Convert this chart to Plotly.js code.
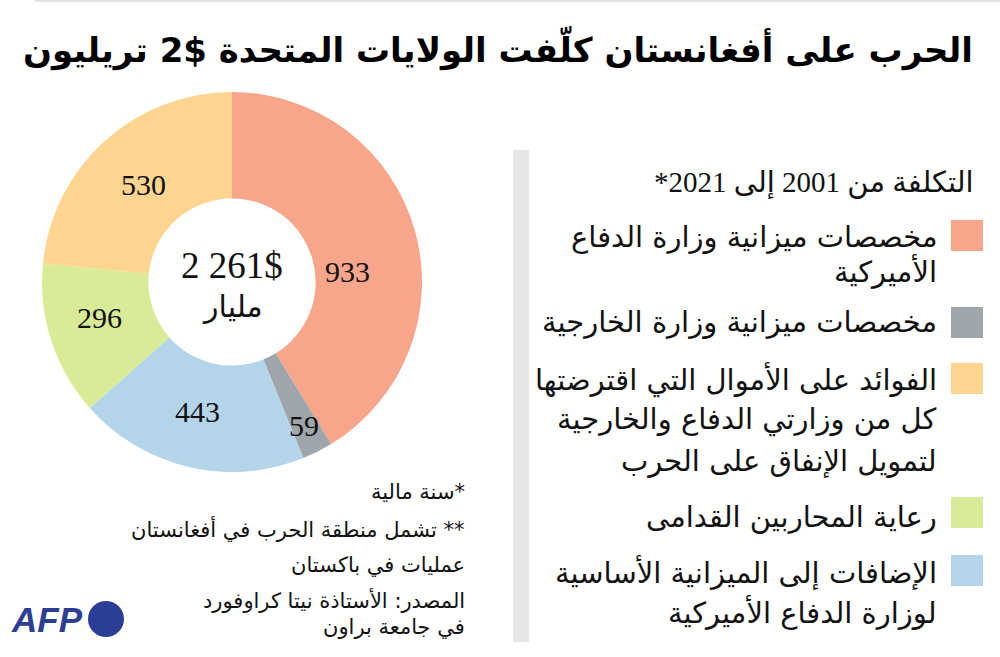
<!DOCTYPE html>
<html>
<head>
<meta charset="utf-8">
<script src="https://cdn.plot.ly/plotly-3.0.1.min.js"></script>
<style>html,body{margin:0;padding:0;background:#fff;}#chart{width:1000px;height:657px;}</style>
</head>
<body>
<div id="chart"></div>
<script>
// ---- data ----
var categories = [
  'مخصصات ميزانية وزارة الدفاع الأميركية',
  'مخصصات ميزانية وزارة الخارجية',
  'الإضافات إلى الميزانية الأساسية لوزارة الدفاع الأميركية',
  'رعاية المحاربين القدامى',
  'الفوائد على الأموال التي اقترضتها كل من وزارتي الدفاع والخارجية لتمويل الإنفاق على الحرب'
];
var values = [933, 59, 443, 296, 530];
var sliceColors = ['#f7a68b', '#9fa6ab', '#b4d4e9', '#daeb98', '#fed590'];
var titleText = 'الحرب على أفغانستان كلّفت الولايات المتحدة 2$ تريليون';
var centerLines = ['2 261$', 'مليار'];
var legendHeader = 'التكلفة من 2001 إلى 2021*';
// legend entries in display order (index into categories) with their wrapped lines
var legendOrder = [0, 1, 4, 3, 2];
var legendLines = [
  ['مخصصات ميزانية وزارة الدفاع', 'الأميركية'],
  ['مخصصات ميزانية وزارة الخارجية'],
  ['الفوائد على الأموال التي اقترضتها', 'كل من وزارتي الدفاع والخارجية', 'لتمويل الإنفاق على الحرب'],
  ['رعاية المحاربين القدامى'],
  ['الإضافات إلى الميزانية الأساسية', 'لوزارة الدفاع الأميركية']
];
var footnotes = ['*سنة مالية', '** تشمل منطقة الحرب في أفغانستان', 'عمليات في باكستان', 'المصدر: الأستاذة نيتا كراوفورد', 'في جامعة براون'];

// ---- layout helpers (pixel -> paper) ----
var W = 1000, H = 657;
function px(x){ return x / W; }
function py(y){ return 1 - y / H; }
var RLE = '\u202B', PDF = '\u202C';
function rtl(s){ return RLE + s + PDF; }
function ltrIsolate(s, part){ return s.replace(part, '\u2066' + part + '\u2069'); }

var cx = 232, cy = 282, R = 190;
var labelPlace = [{dt: 10.3, r: 116}, {dt: 0, r: 161}, {dt: 1.5, r: 134}, {dt: 3, r: 137}, {dt: 0, r: 132}];

var serif = 'Liberation Serif, DejaVu Serif, serif';
var arab = 'DejaVu Sans, sans-serif';
var mixed = 'Liberation Serif, DejaVu Sans, serif';

var annotations = [];
var shapes = [];

// slice value labels
var total = values.reduce(function(a,b){return a+b;}, 0);
var cum = 0;
values.forEach(function(v, i){
  var mid = (cum + v / 2) / total * 360 + labelPlace[i].dt;
  cum += v;
  var th = mid * Math.PI / 180;
  var r = labelPlace[i].r;
  annotations.push({
    x: px(cx + r * Math.sin(th)), y: py(cy - r * Math.cos(th)),
    xref: 'paper', yref: 'paper', showarrow: false,
    text: String(v), xanchor: 'center', yanchor: 'middle',
    font: {family: serif, size: 30, color: '#111'}
  });
});

// center text
annotations.push({x: px(cx), y: py(265), xref:'paper', yref:'paper', showarrow:false,
  text: centerLines[0], xanchor:'center', yanchor:'middle', font:{family: serif, size: 37, color:'#111'}});
annotations.push({x: px(cx), y: py(307), xref:'paper', yref:'paper', showarrow:false,
  text: rtl(centerLines[1]), xanchor:'center', yanchor:'middle', font:{family: arab, size: 30, color:'#111'}});

// title
annotations.push({x: px(975), y: py(48), xref:'paper', yref:'paper', showarrow:false,
  text: '<b>' + rtl(ltrIsolate(titleText, '2$')) + '</b>', xanchor:'right', yanchor:'middle',
  font:{family: arab, size: 34, color:'#000'}});

// legend header
annotations.push({x: px(976), y: py(183), xref:'paper', yref:'paper', showarrow:false,
  text: rtl(legendHeader), xanchor:'right', yanchor:'middle', font:{family: mixed, size: 29, color:'#111'}});

// legend items
var swatchTop = [220, 307, 363, 497, 555];
var lineY = [[237, 271], [322], [379, 419, 461], [517], [572, 612]];
legendOrder.forEach(function(ci, k){
  shapes.push({type:'rect', xref:'paper', yref:'paper', x0: px(951), x1: px(983),
    y0: py(swatchTop[k]), y1: py(swatchTop[k] + 31), fillcolor: sliceColors[ci], line:{width:0}});
  legendLines[k].forEach(function(t, j){
    annotations.push({x: px(939), y: py(lineY[k][j]), xref:'paper', yref:'paper', showarrow:false,
      text: rtl(t), xanchor:'right', yanchor:'middle', font:{family: arab, size: 29, color:'#111'}});
  });
});

// footnotes
var footY = [492, 529, 565, 600, 627];
footnotes.forEach(function(t, i){
  annotations.push({x: px(467), y: py(footY[i]), xref:'paper', yref:'paper', showarrow:false,
    text: rtl(t), xanchor:'right', yanchor:'middle', font:{family: arab, size: 21, color:'#111'}});
});

// AFP logo
annotations.push({x: px(9), y: py(619), xref:'paper', yref:'paper', showarrow:false,
  text: '<b><i>AFP</i></b>', xanchor:'left', yanchor:'middle', font:{family:'Liberation Sans, Arial, sans-serif', size: 35, color:'#2b3d94'}});
shapes.push({type:'circle', xref:'paper', yref:'paper', x0: px(88), x1: px(124), y0: py(601), y1: py(637),
  fillcolor:'#2b3d94', line:{width:0}});

// legend grey bar
shapes.push({type:'rect', xref:'paper', yref:'paper', x0: px(513), x1: px(529), y0: py(150), y1: py(642),
  fillcolor:'#e6e6e6', line:{width:0}, layer:'below'});
// top rule
shapes.push({type:'line', xref:'paper', yref:'paper', x0: px(35), x1: 1, y0: py(1), y1: py(1),
  line:{color:'#e2e2e2', width:2}});

var trace = {
  type: 'pie',
  labels: categories,
  values: values,
  marker: {colors: sliceColors, line: {width: 0}},
  hole: 0.44,
  sort: false,
  direction: 'clockwise',
  rotation: 0,
  textinfo: 'none',
  hoverinfo: 'label+value',
  showlegend: false,
  domain: {x: [px(cx - R), px(cx + R)], y: [py(cy + R), py(cy - R)]}
};

var layout = {
  width: W, height: H,
  margin: {l:0, r:0, t:0, b:0},
  paper_bgcolor: '#fff',
  showlegend: false,
  annotations: annotations,
  shapes: shapes
};

Plotly.newPlot('chart', [trace], layout, {displayModeBar: false, staticPlot: true});
</script>
</body>
</html>
